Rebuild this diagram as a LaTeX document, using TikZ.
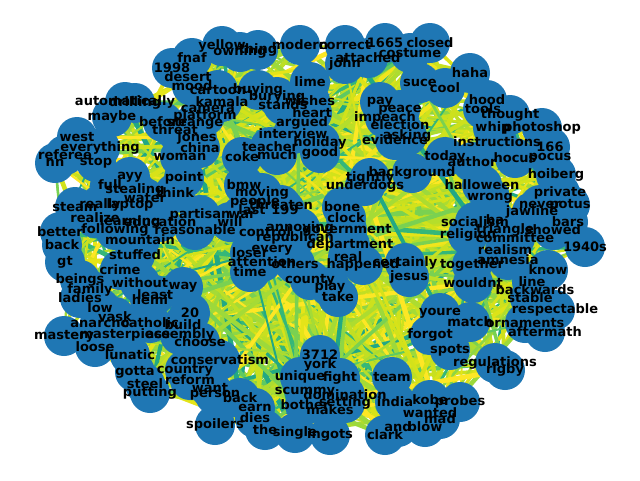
\documentclass[tikz,border=0pt]{standalone}
\usepackage{fontspec}
\setmainfont{DejaVu Sans}
\usetikzlibrary{backgrounds}
\definecolor{nodeblue}{HTML}{1F77B4}
\definecolor{ec0}{HTML}{FDE725}
\definecolor{ec1}{HTML}{FDE725}
\definecolor{ec2}{HTML}{F1E51D}
\definecolor{ec3}{HTML}{E5E419}
\definecolor{ec4}{HTML}{DDE318}
\definecolor{ec5}{HTML}{D8E219}
\definecolor{ec6}{HTML}{D2E21B}
\definecolor{ec7}{HTML}{CDE11D}
\definecolor{ec8}{HTML}{C8E020}
\definecolor{ec9}{HTML}{C2DF23}
\definecolor{ec10}{HTML}{BDDF26}
\definecolor{ec11}{HTML}{B5DE2B}
\definecolor{ec12}{HTML}{ADDC30}
\definecolor{ec13}{HTML}{A5DB36}
\definecolor{ec14}{HTML}{9DD93B}
\definecolor{ec15}{HTML}{8ED645}
\definecolor{ec16}{HTML}{7AD151}
\definecolor{ec17}{HTML}{5EC962}
\definecolor{ec18}{HTML}{35B779}
\definecolor{ec19}{HTML}{22A884}

\def\wordlist{192/58/fnaf, 172/68/1998, 188/77/desert, 192/86/mood, 218/90/cartoon,
258/90/buying, 277/97/burying, 222/102/kamala, 208/109/camera, 205/116/platform,
195/123/strange, 197/138/jones, 200/148/china, 180/157/woman, 242/157/coke,
277/155/much, 270/147/teacher, 320/153/good, 320/143/holiday, 293/134/interview,
302/123/argued, 312/113/heart, 310/101/wishes, 283/105/stands, 310/82/lime,
222/46/yellow, 240/52/owning, 258/50/thing, 300/45/modern, 345/45/correct,
385/43/1665, 430/43/closed, 410/53/costume, 368/58/attached, 345/64/john,
470/73/haha, 420/83/suce, 445/88/cool, 487/100/hood, 483/109/tools,
510/115/thought, 493/128/whip, 542/128/photoshop, 497/142/instructions, 550/147/166,
515/158/hocus, 550/158/pocus, 445/157/today, 472/162/author, 556/175/hoiberg,
560/193/private, 540/205/never, 570/205/potus, 532/212/jawline, 495/220/ba,
568/222/bars, 553/230/showed, 505/230/triangle, 515/238/committee, 475/222/socialism,
468/235/religion, 505/250/realism, 508/260/amnesia, 585/247/1940s, 548/270/know,
472/265/together, 473/283/wouldnt, 532/282/line, 535/290/backwards, 530/298/stable,
555/310/respectable, 525/323/ornaments, 545/332/aftermath, 440/313/youre, 430/335/forgot,
470/322/match, 450/350/spots, 495/363/regulations, 505/370/rigby, 460/402/probes,
430/400/kobe, 395/402/india, 430/413/wanted, 440/419/mad, 398/427/and,
425/427/blow, 385/435/clark, 392/377/team, 345/395/domination, 340/378/fight,
345/403/setting, 330/410/makes, 305/405/bother, 305/392/scummy, 300/377/unique,
320/355/3712, 320/365/york, 330/435/ingots, 295/433/single, 265/430/the,
215/425/spoilers, 255/418/dies, 255/408/earn, 240/398/back, 215/395/person,
210/388/want, 190/380/reform, 185/370/country, 220/360/conservatism, 200/342/choose,
180/335/assembly, 183/325/build, 190/313/20, 183/287/way, 140/283/without,
155/295/least, 150/300/hemi, 100/308/low, 115/317/vask, 100/323/anarcho,
150/323/catholic, 64/336/mastery, 125/335/masterpiece, 95/347/loose, 130/355/lunatic,
135/372/gotta, 145/384/steel, 150/393/putting, 80/280/beings, 80/298/ladies,
90/290/family, 120/270/crime, 135/255/stuffed, 65/262/gt, 62/245/back,
60/232/better, 115/230/following, 140/240/mountain, 95/218/realize, 130/222/learning,
75/207/steam, 100/205/really, 130/205/laptop, 145/198/water, 135/190/stealing,
110/185/full, 130/177/ayy, 184/178/point, 175/193/think, 160/222/education,
200/215/partisan, 242/215/war, 230/222/will, 195/230/reasonable, 244/185/bmw,
262/193/moving, 255/202/people, 281/205/threaten, 252/210/last, 285/210/199,
265/232/control, 300/228/annoying, 295/238/republican, 350/245/department, 347/230/government,
346/218/clock, 342/207/bone, 365/186/underdogs, 370/178/tightly, 412/173/background,
490/198/wrong, 482/185/halloween, 272/250/every, 250/253/loser, 262/262/attention,
295/264/others, 250/272/time, 310/280/county, 330/287/play, 338/297/take,
348/257/real, 363/265/happened, 405/263/certainly, 409/277/jesus, 380/102/pay,
400/110/peace, 385/118/impeach, 400/125/election, 407/136/asking, 395/140/evidence,
125/102/automatically, 135/103/drilling, 112/117/maybe, 163/122/before, 175/130/threat,
77/137/west, 100/148/everything, 65/155/referee, 55/163/nn, 96/162/stop}

\begin{document}
\begin{tikzpicture}[x=1pt, y=-1pt,
  dot/.style={circle, fill=nodeblue, minimum size=40pt, inner sep=0pt},
  word/.style={font=\bfseries\fontsize{13}{13}\selectfont, inner sep=0pt},
  edge/.style={line cap=butt}]
\useasboundingbox (0,0) rectangle (640,480);
\foreach \x/\y/\w [count=\i] in \wordlist {
  \node[dot] (n\i) at (\x,\y) {};
  \xdef\nwords{\i}
}
\foreach \x/\y/\w [count=\i] in \wordlist
  \node[word] (t\i) at (n\i) {\w};
\begin{pgfonlayer}{background}
\pgfmathsetseed{42}
\foreach \k in {1,...,900} {
  \pgfmathtruncatemacro\a{random(1,\nwords)}
  \pgfmathtruncatemacro\b{random(1,\nwords)}
  \pgfmathtruncatemacro\c{random(0,19)}
  \pgfmathsetmacro\lw{1.8+3.2*rnd}
  \draw[edge, line width=\lw pt, color=ec\c] (n\a.center) -- (n\b.center);
}
\end{pgfonlayer}
\end{tikzpicture}
\end{document}
